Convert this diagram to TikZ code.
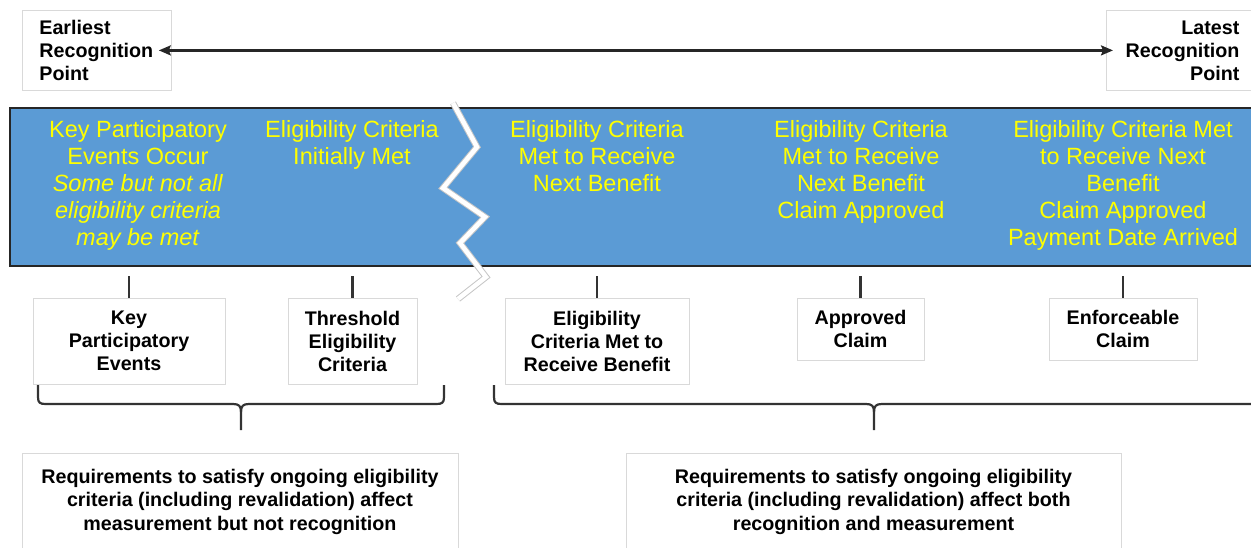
\documentclass[tikz,border=0pt]{standalone}
\usepackage{fontspec}
\setmainfont{Liberation Sans}
\usetikzlibrary{arrows.meta}
\definecolor{bandblue}{RGB}{91,155,213}
\definecolor{eventyellow}{RGB}{255,255,0}

\begin{document}
\begin{tikzpicture}[x=1pt,y=-1pt,>={Stealth[length=12pt,width=10pt,inset=2pt]},
	lblbox/.style={draw=gray!30,line width=0.8pt,inner sep=0pt,align=center,font=\fontsize{19.7pt}{23pt}\selectfont\bfseries},
	evtext/.style={text=eventyellow,anchor=north,inner sep=0pt,align=center,font=\fontsize{23.5pt}{27pt}\selectfont},
	tick/.style={draw=black!80,line width=2.2pt},
	brace/.style={draw=black!80,line width=2.2pt}]

	\useasboundingbox (0,0) rectangle (1251,547);
	\clip (0,0) rectangle (1251,547);

	% The recognition points
	\node[lblbox,anchor=north west,minimum height=80pt,text width=115pt,inner xsep=17pt,align=left] (early) at (22,10) {Earliest\\Recognition\\Point};
	\node[lblbox,anchor=north west,minimum height=80pt,text width=116pt,inner xsep=17pt,align=right] (late) at (1106,10) {Latest\\Recognition\\Point};
	\draw[<->,line width=2.2pt,black!85,shorten <=-13pt,shorten >=-7pt] (early.east) -- (late.west);

	% The band
	\draw[line width=2.2pt,draw=black!85,fill=bandblue] (10,108) rectangle (1262,266);

	% The break in the band
	\foreach \c/\w in {gray!45/6.5pt,white/4.5pt}
		\draw[\c,line width=\w] (453,103) -- (477,147) -- (443,188) -- (485,217) -- (460,243) -- (486,277) -- (458,299);

	% The events
	\node[evtext] (ev1) at (138,120) {Key Participatory\\Events Occur\\\textit{Some but not all}\\\textit{eligibility criteria}\\\textit{may be met}};
	\node[evtext] (ev2) at (352,120) {Eligibility Criteria\\Initially Met};
	\node[evtext] (ev3) at (597,120) {Eligibility Criteria\\Met to Receive\\Next Benefit};
	\node[evtext] (ev4) at (861,120) {Eligibility Criteria\\Met to Receive\\Next Benefit\\Claim Approved};
	\node[evtext] (ev5) at (1123,120) {Eligibility Criteria Met\\to Receive Next\\Benefit\\Claim Approved\\Payment Date Arrived};

	% The boxes below the band
	\node[lblbox,minimum width=192pt,minimum height=86pt] (b1) at (129,341) {Key\\Participatory\\Events};
	\node[lblbox,minimum width=129pt,minimum height=86pt] (b2) at (352.5,341) {Threshold\\Eligibility\\Criteria};
	\node[lblbox,minimum width=184pt,minimum height=86pt] (b3) at (597,341) {Eligibility\\Criteria Met to\\Receive Benefit};
	\node[lblbox,minimum width=127pt,minimum height=62pt] (b4) at (860.5,329) {Approved\\Claim};
	\node[lblbox,minimum width=148pt,minimum height=62pt] (b5) at (1123,329) {Enforceable\\Claim};

	\foreach \b in {b1,b2,b3,b4,b5}
		\draw[tick] (\b.north) -- ++(0,-22);

	% The braces
	\draw[brace] (38,385) -- (38,397) .. controls (38,403) and (40,404) .. (46,404) -- (233,404) .. controls (239,404) and (241,406) .. (241,412) -- (241,430);
	\draw[brace] (444,385) -- (444,397) .. controls (444,403) and (442,404) .. (436,404) -- (249,404) .. controls (243,404) and (241,406) .. (241,412);
	\draw[brace] (494,385) -- (494,397) .. controls (494,403) and (496,404) .. (502,404) -- (866,404) .. controls (872,404) and (874,406) .. (874,412) -- (874,430);
	\draw[brace] (1262,404) -- (882,404) .. controls (876,404) and (874,406) .. (874,412);

	% What the braces mean
	\node[lblbox,minimum width=436pt,minimum height=97pt,font=\fontsize{19.7pt}{23.5pt}\selectfont\bfseries] (m1) at (240,501.5) {Requirements to satisfy ongoing eligibility\\criteria (including revalidation) affect\\measurement but not recognition};
	\node[lblbox,minimum width=495pt,minimum height=97pt,font=\fontsize{19.7pt}{23.5pt}\selectfont\bfseries] (m2) at (873.5,501.5) {Requirements to satisfy ongoing eligibility\\criteria (including revalidation) affect both\\recognition and measurement};
\end{tikzpicture}
\end{document}
